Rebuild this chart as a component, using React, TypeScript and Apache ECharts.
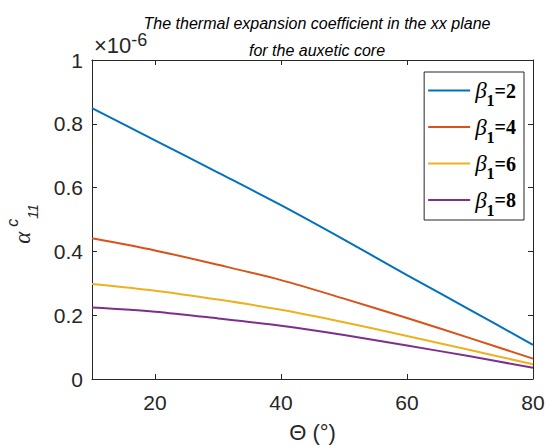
import React, { useEffect, useRef } from "react";
import * as echarts from "echarts";

const thetaValues = [10, 20, 30, 40, 50, 60, 70, 80];
const seriesNames = ["β1=2", "β1=4", "β1=6", "β1=8"];
const betaLabels = ["2", "4", "6", "8"];
const beta2 = [0.849, 0.748, 0.647, 0.545, 0.437, 0.326, 0.217, 0.107];
const beta4 = [0.441, 0.403, 0.358, 0.31, 0.252, 0.191, 0.128, 0.064];
const beta6 = [0.298, 0.277, 0.249, 0.217, 0.178, 0.135, 0.091, 0.046];
const beta8 = [0.224, 0.211, 0.19, 0.167, 0.138, 0.105, 0.071, 0.035];
const xTicks = [20, 40, 60, 80];
const colors = ["#0072BD", "#D95319", "#EDB120", "#7E2F8E"];
const titleText = "The thermal expansion coefficient in the xx plane\nfor the auxetic core";
const xName = "Θ (°)";
const yNameRich = "{a|α}{c|c}{d|11}";
const exponentRich = "{a|×10}{b|-6}";

const AX = "#262626";
const SANS = "Liberation Sans";
const SERIF = "Liberation Serif";

export default function App() {
  const ref = useRef<HTMLDivElement>(null);
  useEffect(() => {
    if (!ref.current) return;
    const chart = echarts.init(ref.current, null, { renderer: "svg" });
    const allData = [beta2, beta4, beta6, beta8];
    const series = allData.map((d, i) => ({
      name: seriesNames[i],
      type: "line",
      data: thetaValues.map((t, j) => [t, d[j]]),
      symbol: "none",
      smooth: 0.3,
      lineStyle: { color: colors[i], width: 2 },
      itemStyle: { color: colors[i] },
      xAxisIndex: 0,
      yAxisIndex: 0,
    }));
    const tickInside = { show: true, inside: true, length: 5, lineStyle: { color: AX, width: 1 } };
    const axisLine = { show: true, onZero: false, lineStyle: { color: AX, width: 1 } };
    chart.setOption({
      animation: false,
      backgroundColor: "#fff",
      title: [
        {
          text: titleText,
          left: 312,
          top: 5,
          textAlign: "center",
          textStyle: {
            fontFamily: SANS,
            fontStyle: "italic",
            fontWeight: "normal",
            fontSize: 16,
            lineHeight: 27,
            color: "#000",
          },
        },
        {
          text: exponentRich,
          left: 94,
          top: 31,
          padding: 0,
          textStyle: {
            fontWeight: "normal",
            rich: {
              a: { fontFamily: SANS, fontWeight: "normal", fontSize: 22, lineHeight: 29, color: AX, verticalAlign: "middle" },
              b: { fontFamily: SANS, fontWeight: "normal", fontSize: 18, lineHeight: 18, padding: [0, 0, 13, 0], color: AX, verticalAlign: "top" },
            },
          },
        },
      ],
      grid: { left: 92, right: 13, top: 60, bottom: 66, containLabel: false, outerBoundsMode: "none" },
      xAxis: [
        {
          type: "value",
          min: 10,
          max: 80,
          position: "bottom",
          axisLine,
          axisTick: { ...tickInside, customValues: xTicks },
          axisLabel: {
            customValues: xTicks,
            color: AX,
            fontFamily: SANS,
            fontSize: 21,
            margin: 13,
          },
          splitLine: { show: false },
          name: xName,
          nameLocation: "middle",
          nameGap: 42,
          nameTextStyle: { fontFamily: SANS, fontSize: 22, color: AX },
        },
        {
          type: "value",
          min: 10,
          max: 80,
          position: "top",
          axisLine,
          axisTick: { ...tickInside, customValues: xTicks },
          axisLabel: { show: false },
          splitLine: { show: false },
        },
      ],
      yAxis: [
        {
          type: "value",
          min: 0,
          max: 1,
          interval: 0.2,
          position: "left",
          axisLine,
          axisTick: tickInside,
          axisLabel: { color: AX, fontFamily: SANS, fontSize: 21, margin: 9 },
          splitLine: { show: false },
          name: yNameRich,
          nameLocation: "middle",
          nameRotate: 90,
          nameGap: 52,
          nameTextStyle: {
            padding: [0, 9, 0, 0],
            rich: {
              a: { fontFamily: SERIF, fontStyle: "italic", fontSize: 23, lineHeight: 36, color: AX, verticalAlign: "middle" },
              c: { fontFamily: SANS, fontStyle: "italic", fontSize: 16, lineHeight: 12, padding: [0, 0, 0, 5], color: AX, verticalAlign: "top" },
              d: { fontFamily: SANS, fontStyle: "italic", fontSize: 14, lineHeight: 12, color: AX, verticalAlign: "bottom" },
            },
          },
        },
        {
          type: "value",
          min: 0,
          max: 1,
          interval: 0.2,
          position: "right",
          axisLine,
          axisTick: tickInside,
          axisLabel: { show: false },
          splitLine: { show: false },
        },
      ],
      legend: {
        orient: "vertical",
        right: 22,
        top: 72,
        data: seriesNames,
        icon: "rect",
        itemWidth: 42,
        itemHeight: 2,
        itemGap: 7,
        padding: [7, 8, 2, 4],
        borderColor: AX,
        borderWidth: 1,
        backgroundColor: "#fff",
        formatter: (name: string) => {
          const k = seriesNames.indexOf(name);
          return `{b|β}{s|1}{t|=${betaLabels[k]}}`;
        },
        textStyle: {
          rich: {
            b: { fontFamily: SERIF, fontStyle: "italic", fontSize: 23, lineHeight: 36, color: "#000", verticalAlign: "middle" },
            s: { fontFamily: SERIF, fontWeight: "bold", fontSize: 16, lineHeight: 12, color: "#000", verticalAlign: "bottom" },
            t: { fontFamily: SERIF, fontWeight: "bold", fontSize: 20, lineHeight: 20, color: "#000", verticalAlign: "middle" },
          },
        },
      },
      series,
    });
    return () => chart.dispose();
  }, []);
  return <div ref={ref} style={{ width: 546, height: 445, position: "absolute", left: 0, top: 0 }} />;
}
